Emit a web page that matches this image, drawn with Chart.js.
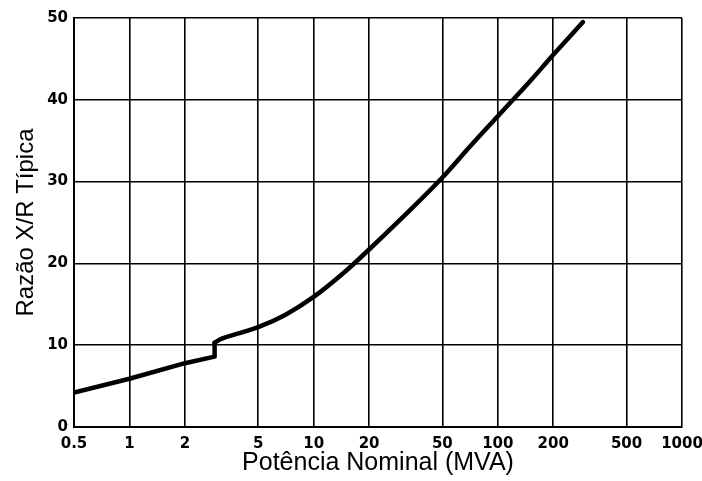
<!DOCTYPE html>
<html>
<head>
<meta charset="utf-8">
<script src="https://cdn.jsdelivr.net/npm/chart.js@4.4.0/dist/chart.umd.min.js"></script>
<style>
  html, body { margin: 0; padding: 0; background: #fff; }
  #wrap { width: 702px; height: 481px; position: relative; }
</style>
</head>
<body>
<div id="wrap"><canvas id="c" width="702" height="481"></canvas></div>
<script>
// Lower branch (small transformers), ends with the vertical step
const lowerMVA = [0.5, 1, 2, 2.9, 2.9];
const lowerXR  = [4.2, 5.9, 7.8, 8.6, 10.3];
// Upper branch
const upperMVA = [2.9, 3.1, 4, 5, 7, 10, 15, 20, 30, 50, 70, 100, 150, 200, 290];
const upperXR  = [10.3, 10.7, 11.5, 12.2, 13.7, 15.9, 19.1, 21.7, 25.5, 30.5, 34.2, 38.0, 42.3, 45.5, 49.5];
// Tick labels
const xTickValues = [0.5, 1, 2, 5, 10, 20, 50, 100, 200, 500, 1000];
const xTickLabels = ['0.5', '1', '2', '5', '10', '20', '50', '100', '200', '500', '1000'];
const yTickValues = [0, 10, 20, 30, 40, 50];

const xTitle = 'Potência Nominal (MVA)';
const yTitle = 'Razão X/R Típica';

const toPts = (xs, ys) => xs.map((x, i) => ({ x: x, y: ys[i] }));
const tickFont = { family: "'DejaVu Sans', sans-serif", size: 15, weight: 'bold' };
const lineStyle = {
  borderColor: '#000',
  borderWidth: 4.5,
  borderCapStyle: 'round',
  borderJoinStyle: 'round',
  pointRadius: 0,
  fill: false
};

new Chart(document.getElementById('c'), {
  type: 'line',
  data: {
    datasets: [
      Object.assign({ data: toPts(lowerMVA, lowerXR), tension: 0 }, lineStyle),
      Object.assign({ data: toPts(upperMVA, upperXR), cubicInterpolationMode: 'monotone' }, lineStyle)
    ]
  },
  options: {
    responsive: false,
    animation: false,
    layout: { padding: { top: 18, right: 20, left: 0, bottom: 0 } },
    plugins: { legend: { display: false }, tooltip: { enabled: false } },
    scales: {
      x: {
        type: 'logarithmic',
        min: 0.5,
        max: 1000,
        afterBuildTicks: (s) => { s.ticks = xTickValues.map(v => ({ value: v })); },
        afterFit: (s) => { s.height = 54; s.paddingLeft = 0; s.paddingRight = 0; },
        ticks: {
          autoSkip: false, maxRotation: 0, minRotation: 0,
          color: '#000', font: tickFont, padding: 8,
          callback: (v) => { const i = xTickValues.indexOf(v); return i >= 0 ? xTickLabels[i] : ''; }
        },
        grid: { color: '#000', lineWidth: 1.6, drawTicks: false },
        border: { color: '#000', width: 2 },
        title: { display: true, text: xTitle, color: '#000',
                 font: { family: "'Liberation Sans', Arial, sans-serif", size: 25 },
                 padding: { top: 0, bottom: 3 } }
      },
      y: {
        type: 'linear',
        min: 0,
        max: 50,
        afterBuildTicks: (s) => { s.ticks = yTickValues.map(v => ({ value: v })); },
        afterFit: (s) => { s.width = 74; s.paddingTop = 0; s.paddingBottom = 0; },
        ticks: { color: '#000', font: tickFont, padding: 6 },
        grid: { color: '#000', lineWidth: 1.6, drawTicks: false },
        border: { color: '#000', width: 2 },
        title: { display: true, text: yTitle, color: '#000',
                 font: { family: "'Liberation Sans', Arial, sans-serif", size: 24 },
                 padding: { top: 12, bottom: 0 } }
      }
    }
  }
});
</script>
</body>
</html>
